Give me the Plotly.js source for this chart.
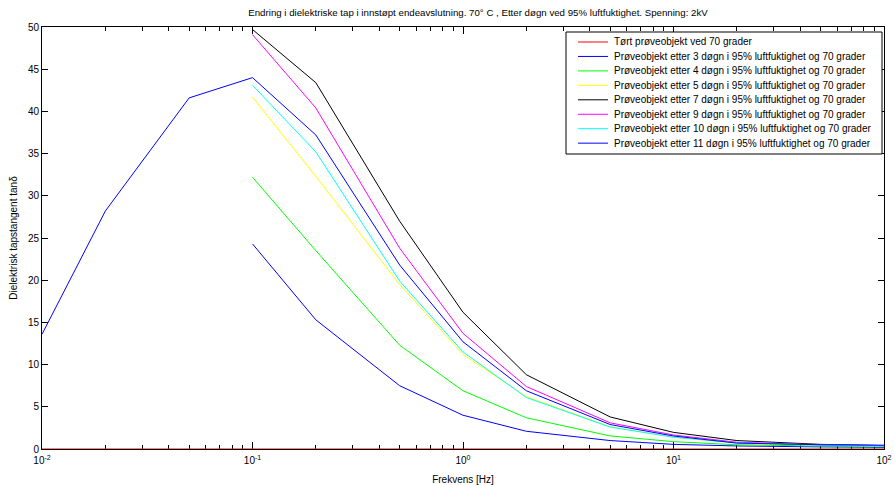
<!DOCTYPE html>
<html>
<head>
<meta charset="utf-8">
<script src="https://cdn.plot.ly/plotly-3.0.1.min.js"></script>
<style>html,body{margin:0;padding:0;background:#fff;}#chart{width:894px;height:485px;}</style>
</head>
<body>
<div id="chart"></div>
<script>
// Frequencies [Hz]
const freqAll = [0.01, 0.02, 0.05, 0.1, 0.2, 0.5, 1, 2, 5, 10, 20, 50, 100];
const freqHi = [0.1, 0.2, 0.5, 1, 2, 5, 10, 20, 50, 100];

// Series values (tan delta)
const dry = [0, 0, 0, 0, 0, 0, 0, 0, 0, 0, 0, 0, 0];
const day3 = [24.3, 15.3, 7.5, 4.0, 2.1, 1.0, 0.55, 0.36, 0.25, 0.2];
const day4 = [32.2, 23.5, 12.3, 6.9, 3.7, 1.55, 0.87, 0.5, 0.35, 0.3];
const day5 = [41.7, 32.3, 19.5, 11.2, 6.2, 2.65, 1.38, 0.7, 0.45, 0.35];
const day7 = [49.7, 43.4, 27.0, 16.2, 8.8, 3.8, 1.97, 1.0, 0.55, 0.4];
const day9 = [49.1, 40.4, 23.8, 13.7, 7.4, 3.1, 1.66, 0.8, 0.5, 0.4];
const day10 = [43.1, 35.2, 19.9, 11.5, 6.1, 2.6, 1.4, 0.72, 0.47, 0.35];
const day11 = [13.6, 28.2, 41.6, 44.0, 37.2, 21.8, 12.7, 6.9, 2.9, 1.54, 0.7, 0.5, 0.45];

const names = [
  "Tørt prøveobjekt ved 70 grader",
  "Prøveobjekt etter 3 døgn i 95% luftfuktighet og 70 grader",
  "Prøveobjekt etter 4 døgn i 95% luftfuktighet og 70 grader",
  "Prøveobjekt etter 5 døgn i 95% luftfuktighet og 70 grader",
  "Prøveobjekt etter 7 døgn i 95% luftfuktighet og 70 grader",
  "Prøveobjekt etter 9 døgn i 95% luftfuktighet og 70 grader",
  "Prøveobjekt etter 10 døgn i 95% luftfuktighet og 70 grader",
  "Prøveobjekt etter 11 døgn i 95% luftfuktighet og 70 grader"
];
const xTickVals = [0.01, 0.1, 1, 10, 100];
const xTickText = ["10<sup>-2</sup>", "10<sup>-1</sup>", "10<sup>0</sup>", "10<sup>1</sup>", "10<sup>2</sup>"];
const yTickVals = [0, 5, 10, 15, 20, 25, 30, 35, 40, 45, 50];
const minorMult = [2, 3, 4, 5, 6, 7, 8, 9];
const xMinorVals = [];
[0.01, 0.1, 1, 10].forEach((d) => minorMult.forEach((m) => xMinorVals.push(+(d * m).toPrecision(3))));

const colors = ["#ff0000", "#0000ff", "#00ff00", "#ffff00", "#000000", "#ff00ff", "#00ffff", "#0000ff"];
const xs = [freqAll, freqHi, freqHi, freqHi, freqHi, freqHi, freqHi, freqAll];
const ys = [dry, day3, day4, day5, day7, day9, day10, day11];

const traces = ys.map((y, i) => ({
  x: xs[i], y: y, type: "scatter", mode: "lines", name: names[i],
  line: {color: colors[i], width: 1}, showlegend: false
}));

// Compact MATLAB-style legend (box, line samples and labels in paper coords)
const plotL = 42, plotR = 884, plotT = 27, plotB = 449;
const px2x = (p) => (p - plotL) / (plotR - plotL);
const px2y = (p) => (plotB - p) / (plotB - plotT);
const legBox = {l: 566, r: 882, t: 32, b: 154};
const rowTop = 42, rowStep = 14.45;
const shapes = [{
  type: "rect", xref: "paper", yref: "paper",
  x0: px2x(legBox.l), x1: px2x(legBox.r), y0: px2y(legBox.b), y1: px2y(legBox.t),
  line: {color: "#000", width: 1}, fillcolor: "#fff", layer: "above"
}];
const annotations = [];
names.forEach((n, i) => {
  const yp = px2y(rowTop + rowStep * i);
  shapes.push({type: "line", xref: "paper", yref: "paper",
    x0: px2x(578), x1: px2x(608), y0: yp, y1: yp,
    line: {color: colors[i], width: 1}, layer: "above"});
  annotations.push({xref: "paper", yref: "paper", x: px2x(612), y: yp,
    xanchor: "left", yanchor: "middle", showarrow: false, text: n,
    font: {family: "Liberation Sans, Arial, sans-serif", size: 10, color: "#000"}});
});

const font = {family: "Liberation Sans, Arial, sans-serif", size: 10, color: "#000"};
const layout = {
  width: 894, height: 485,
  margin: {l: 42, r: 10, t: 27, b: 36},
  paper_bgcolor: "#fff", plot_bgcolor: "#fff",
  font: font,
  title: {text: "Endring i dielektriske tap i innstøpt endeavslutning. 70° C , Etter døgn ved 95% luftfuktighet. Spenning: 2kV",
          font: {family: font.family, size: 9.7, color: "#000"}, xref: "paper", x: px2x(478), xanchor: "center", y: 0.975, yanchor: "middle"},
  xaxis: {
    type: "log", range: [-2, 2],
    tickmode: "array", tickvals: xTickVals, ticktext: xTickText,
    ticks: "inside", ticklen: 7, tickcolor: "#000", tickwidth: 1,
    showline: true, linecolor: "#000", linewidth: 1, mirror: "ticks",
    showgrid: false, zeroline: false, layer: "below traces",
    ticklabelstandoff: 2,
    minor: {tickmode: "array", tickvals: xMinorVals, ticks: "inside", ticklen: 4, tickcolor: "#000", showgrid: false},
    tickfont: {family: font.family, size: 10, color: "#000"},
    title: {text: "Frekvens [Hz]", font: {family: font.family, size: 10, color: "#000"}, standoff: 10}
  },
  yaxis: {
    range: [0, 50], tickvals: yTickVals,
    ticks: "inside", ticklen: 6, tickcolor: "#000", tickwidth: 1,
    showline: true, linecolor: "#000", linewidth: 1, mirror: "ticks",
    showgrid: false, zeroline: false, layer: "below traces",
    tickfont: {family: font.family, size: 10, color: "#000"},
    title: {text: "Dielektrisk tapstangent tanδ", font: {family: font.family, size: 10, color: "#000"}, standoff: 8}
  },
  showlegend: false,
  shapes: shapes,
  annotations: annotations
};

Plotly.newPlot("chart", traces, layout, {staticPlot: true, displayModeBar: false});
</script>
</body>
</html>
